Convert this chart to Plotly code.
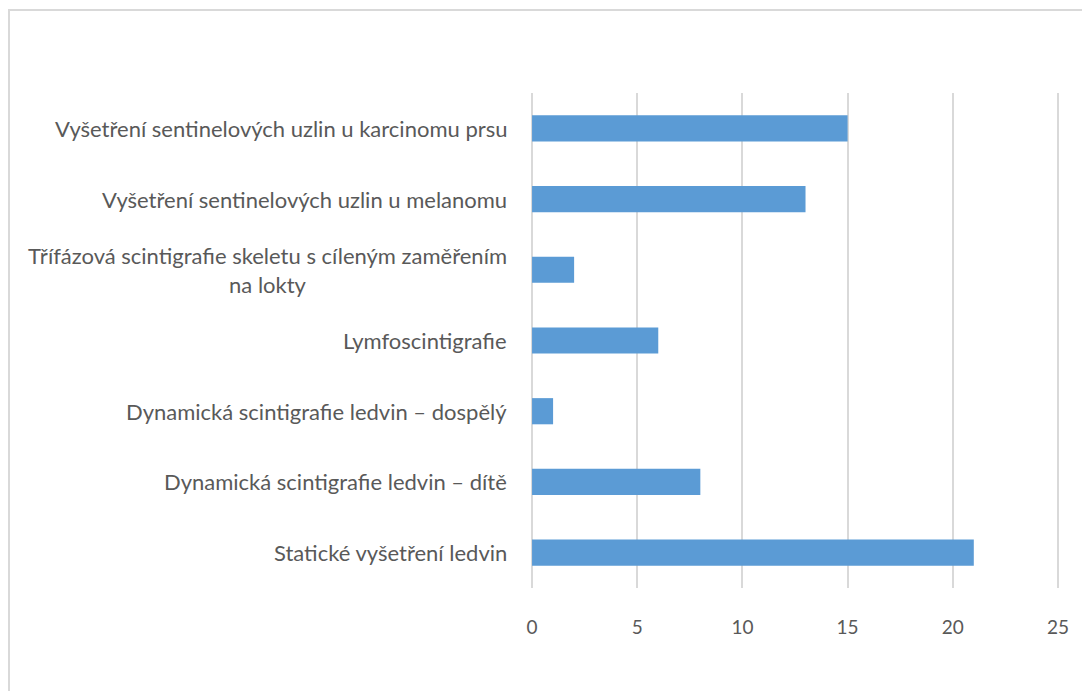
import plotly.graph_objects as go

categories = [
    "Statické vyšetření ledvin",
    "Dynamická scintigrafie ledvin – dítě",
    "Dynamická scintigrafie ledvin – dospělý",
    "Lymfoscintigrafie",
    "Třífázová scintigrafie skeletu s cíleným zaměřením<br>na lokty",
    "Vyšetření sentinelových uzlin u melanomu",
    "Vyšetření sentinelových uzlin u karcinomu prsu",
]
counts = [21, 8, 1, 6, 2, 13, 15]
x_ticks = [0, 5, 10, 15, 20, 25]

TEXT = "#595959"
FONT = "Lato, 'Open Sans', sans-serif"

W, H = 1082, 691
ML, MR, MT, MB = 531, 23, 93, 103
PW, PH = W - ML - MR, H - MT - MB

fig = go.Figure(
    go.Bar(
        y=categories,
        x=counts,
        orientation="h",
        marker=dict(color="#5B9BD5", line=dict(width=0)),
        width=0.37,
    )
)

# Category labels as centered annotations (handles the two-line label)
for cat in categories:
    fig.add_annotation(
        x=0, xref="paper", y=cat, yref="y",
        text=cat, showarrow=False,
        xanchor="right", xshift=-22, align="center",
        font=dict(family=FONT, size=22, color=TEXT),
    )

fig.update_layout(
    width=W, height=H,
    margin=dict(l=ML, r=MR, t=MT, b=MB),
    paper_bgcolor="white", plot_bgcolor="white",
    showlegend=False,
    xaxis=dict(
        range=[-0.05, 25.05], tickvals=x_ticks, ticktext=[str(v) for v in x_ticks],
        showgrid=True, gridcolor="#d9d9d9", gridwidth=1.5,
        zeroline=False, showline=False,
        ticks="outside", ticklen=22, tickcolor="rgba(0,0,0,0)",
        tickfont=dict(family=FONT, size=19, color=TEXT),
    ),
    yaxis=dict(
        categoryorder="array", categoryarray=categories,
        range=[-0.5, 6.5], showticklabels=False,
        showgrid=False, zeroline=False, showline=False,
    ),
    # chart frame (left and top edges visible)
    shapes=[
        dict(type="rect", xref="paper", yref="paper",
             x0=(9 - ML) / PW, x1=(W + 20 - ML) / PW,
             y0=-(MB + 20) / PH, y1=1 + (MT - 10) / PH,
             line=dict(color="#d9d9d9", width=2), fillcolor="rgba(0,0,0,0)",
             layer="below"),
    ],
)

fig.write_html("out.html")
